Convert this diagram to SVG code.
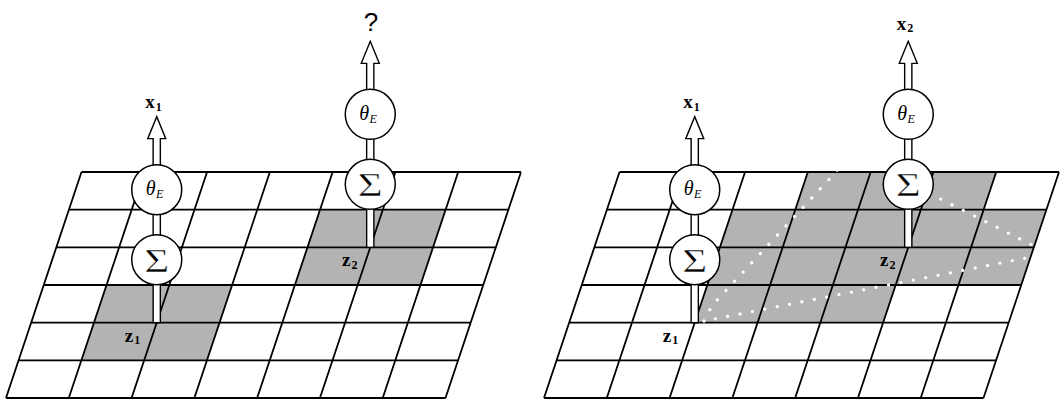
<svg xmlns="http://www.w3.org/2000/svg" xmlns:xlink="http://www.w3.org/1999/xlink" width="1063" height="399" viewBox="0 0 1063 399">
<style>
.grid{fill:none;stroke:#000;stroke-width:1.8;stroke-linejoin:miter}
.cell{fill:#b3b3b3;stroke:none}
.stem{fill:#fff;stroke:#000;stroke-width:1.4}
.circ{fill:#fff;stroke:#000;stroke-width:1.5}
.lbl{font-family:"Liberation Serif",serif;font-weight:bold;font-size:19px}
.th{font-family:"Liberation Serif",serif;font-style:italic;font-size:20px}
.sig{font-family:"Liberation Serif",serif;font-size:34px;stroke:#fff;stroke-width:0.5}
.q{font-family:"Liberation Sans",sans-serif;font-size:26px}
.dots{fill:none;stroke:#fff;stroke-width:3.2;stroke-linecap:round;stroke-dasharray:0.01 12.6}
</style>
<defs>
<g id="stemShape">
<polygon class="stem" points="-3.6,-150 -3.6,-184 -9,-184 0,-206 9,-184 3.6,-184 3.6,-150"/>
<rect class="stem" x="-3.6" y="-115" width="7.2" height="34"/>
<rect class="stem" x="-3.6" y="-45" width="7.2" height="45"/>
</g>
</defs>

<g id="grid-left">
<polygon class="cell" points="106.54,285 232.11,285 206.94,360.33 81.37,360.33"/>
<polygon class="cell" points="320.06,209.67 445.64,209.67 420.47,285 294.89,285"/>
<path class="grid" d="M81.5,172H521M68.92,209.67H508.42M56.33,247.33H495.83M43.75,285H483.25M31.17,322.67H470.67M18.58,360.33H458.08M6,398H445.5
M81.5,172L6,398M144.29,172L68.79,398M207.07,172L131.57,398M269.86,172L194.36,398M332.64,172L257.14,398M395.43,172L319.93,398M458.21,172L382.71,398M521,172L445.5,398"/>
</g>

<g id="grid-right">
<polygon class="cell" points="807.86,172 996.22,172 983.64,209.67 1046.42,209.67 1021.25,285 895.68,285 883.1,322.67 694.74,322.67 732.49,209.67 795.28,209.67"/>
<path class="grid" d="M619.5,172H1059M606.92,209.67H1046.42M594.33,247.33H1033.83M581.75,285H1021.25M569.17,322.67H1008.67M556.58,360.33H996.08M544,398H983.5
M619.5,172L544,398M682.29,172L606.79,398M745.07,172L669.57,398M807.86,172L732.36,398M870.64,172L795.14,398M933.43,172L857.93,398M996.21,172L920.71,398M1059,172L983.5,398"/>
<path id="region-boundary" class="dots" d="M704,321 C709,310 713,304 720,297 L834,174 C850,150 895,170 936,196.7 L1033,245.5 C1040,249 1038,255 1030,257.3 L704,321 Z"/>
</g>

<g id="connectors">
<use xlink:href="#stemShape" transform="translate(156.74,322.67)"/>
<use xlink:href="#stemShape" transform="translate(370.26,247.33)"/>
<use xlink:href="#stemShape" transform="translate(694.74,322.67)"/>
<use xlink:href="#stemShape" transform="translate(908.26,247.33)"/>
</g>

<g id="theta-left-1"><circle class="circ" cx="156.74" cy="189.67" r="25"/><text class="th" x="145.7" y="195">θ<tspan font-size="12" dx="0.5" dy="3">E</tspan></text></g>
<g id="sum-left-1"><circle class="circ" cx="156.74" cy="259.67" r="25"/><text class="sig" x="156.74" y="271.67" text-anchor="middle" textLength="25" lengthAdjust="spacingAndGlyphs">Σ</text></g>
<g id="theta-left-2"><circle class="circ" cx="370.26" cy="114.33" r="25"/><text class="th" x="359.2" y="119.7">θ<tspan font-size="12" dx="0.5" dy="3">E</tspan></text></g>
<g id="sum-left-2"><circle class="circ" cx="370.26" cy="184.33" r="25"/><text class="sig" x="370.26" y="196.33" text-anchor="middle" textLength="25" lengthAdjust="spacingAndGlyphs">Σ</text></g>
<g id="theta-right-1"><circle class="circ" cx="694.74" cy="189.67" r="25"/><text class="th" x="683.7" y="195">θ<tspan font-size="12" dx="0.5" dy="3">E</tspan></text></g>
<g id="sum-right-1"><circle class="circ" cx="694.74" cy="259.67" r="25"/><text class="sig" x="694.74" y="271.67" text-anchor="middle" textLength="25" lengthAdjust="spacingAndGlyphs">Σ</text></g>
<g id="theta-right-2"><circle class="circ" cx="908.26" cy="114.33" r="25"/><text class="th" x="897.2" y="119.7">θ<tspan font-size="12" dx="0.5" dy="3">E</tspan></text></g>
<g id="sum-right-2"><circle class="circ" cx="908.26" cy="184.33" r="25"/><text class="sig" x="908.26" y="196.33" text-anchor="middle" textLength="25" lengthAdjust="spacingAndGlyphs">Σ</text></g>

<g id="z1-left"><text class="lbl" x="124.7" y="341.5">z<tspan font-size="12" dx="1" dy="2.5">1</tspan></text></g>
<g id="z2-left"><text class="lbl" x="342" y="266">z<tspan font-size="12" dx="1" dy="2.5">2</tspan></text></g>
<g id="z1-right"><text class="lbl" x="662.7" y="341.5">z<tspan font-size="12" dx="1" dy="2.5">1</tspan></text></g>
<g id="z2-right"><text class="lbl" x="880" y="266">z<tspan font-size="12" dx="1" dy="2.5">2</tspan></text></g>
<g id="x1-left"><text class="lbl" x="145.2" y="108">x<tspan font-size="12" dx="1" dy="2.5">1</tspan></text></g>
<g id="query"><text class="q" x="371" y="30.5" text-anchor="middle">?</text></g>
<g id="x1-right"><text class="lbl" x="683.2" y="108">x<tspan font-size="12" dx="1" dy="2.5">1</tspan></text></g>
<g id="x2-right"><text class="lbl" x="896.8" y="29.5">x<tspan font-size="12" dx="1" dy="2.5">2</tspan></text></g>
</svg>
